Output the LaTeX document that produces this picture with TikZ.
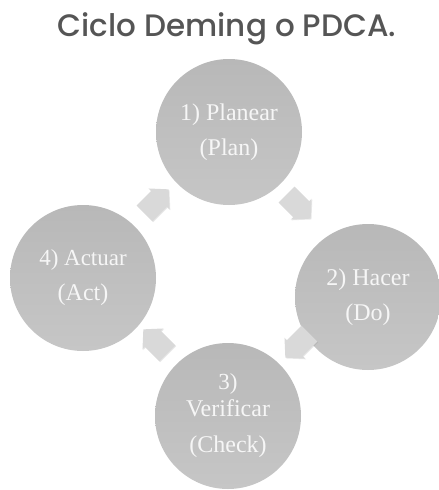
\documentclass[tikz,border=0pt]{standalone}
\usepackage{fontspec}
\setmainfont{Liberation Serif}
\IfFontExistsTF{Poppins Medium}{\newfontfamily\titlefont{Poppins Medium}}{\newfontfamily\titlefont[FakeBold=1.2]{Poppins}}
\usetikzlibrary{shapes.arrows,shadows}
\definecolor{titlegray}{HTML}{555555}
\definecolor{stagetop}{HTML}{B8B8B8}
\definecolor{stagebot}{HTML}{C6C6C6}
\definecolor{flowfill}{HTML}{D9D9D9}
\definecolor{stagetext}{HTML}{F6F6F6}
\begin{document}
\begin{tikzpicture}[x=1pt,y=-1pt,
  heading/.style={font=\titlefont\fontsize{31}{36}\selectfont, text=titlegray, anchor=base, inner sep=0pt},
  stage/.style={circle, minimum size=146pt, inner sep=0pt, top color=stagetop, bottom color=stagebot,
    text=stagetext, align=center, font=\fontsize{24}{27}\selectfont},
  flow/.style={single arrow, minimum height=34pt, inner xsep=0pt, inner ysep=11pt,
    single arrow head extend=3.5pt, single arrow tip angle=95, fill=flowfill,
    drop shadow={opacity=0.18, shadow xshift=0.8pt, shadow yshift=-0.8pt}}]
\useasboundingbox (0,0) rectangle (439,490);

% title
\node[heading] (title) at (227,36) {Ciclo Deming o PDCA.};

% the four stages
\node[stage] (plan)  at (229,132) {1) Planear\\[8pt](Plan)};
\node[stage] (do)    at (368,297) {2) Hacer\\[8pt](Do)};
\node[stage] (check) at (228,416) {\fontsize{23}{25}\selectfont 3)\\Verificar\\[9pt](Check)};
\node[stage] (act)   at (83,278)  {\fontsize{23}{27}\selectfont 4) Actuar\\[8pt](Act)};

% block arrows running clockwise between stages
\node[flow, rotate=-45]  (pd) at (295,203) {};
\node[flow, rotate=-135] (dc) at (301,342) {};
\node[flow, rotate=135]  (ca) at (159,345) {};
\node[flow, rotate=45]   (ap) at (153,205) {};
\end{tikzpicture}
\end{document}
